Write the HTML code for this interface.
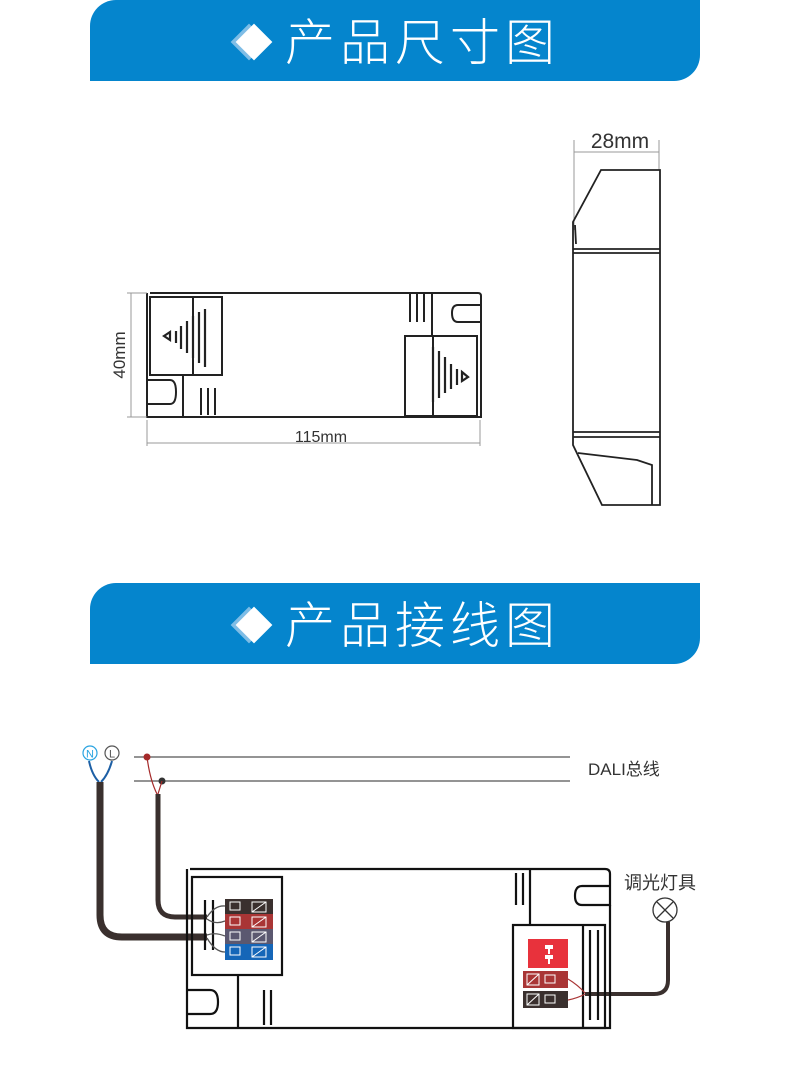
<!DOCTYPE html>
<html><head><meta charset="utf-8"><style>
html,body{margin:0;padding:0;background:#fff;}
body{width:790px;height:1091px;overflow:hidden;position:relative;font-family:"Liberation Sans","Noto Sans CJK SC",sans-serif;}
.ban{position:absolute;left:90px;width:610px;height:81px;background:#0585cd;border-radius:26px 0 26px 0;}
.ban .t{position:absolute;left:195px;top:9px;font-size:50px;color:#fff;letter-spacing:5px;line-height:60px;font-family:"Noto Sans CJK SC",sans-serif;font-weight:300;}
.dia{position:absolute;width:26px;height:26px;transform:rotate(45deg);}
</style></head><body>
<div class="ban" style="top:0"><div class="dia" style="left:146px;top:29px;background:#7fbde6"></div><div class="dia" style="left:151px;top:29px;background:#fff"></div><div class="t">产品尺寸图</div></div>
<div class="ban" style="top:583px"><div class="dia" style="left:146px;top:29px;background:#7fbde6"></div><div class="dia" style="left:151px;top:29px;background:#fff"></div><div class="t">产品接线图</div></div>

<svg width="790" height="1091" style="position:absolute;left:0;top:0" xmlns="http://www.w3.org/2000/svg">
<g fill="none" stroke="#222" stroke-width="2">
<path d="M150 293 H478 Q481 293 481 296 V322 H458 Q452 322 452 313 Q452 305 458 305 H481"/>
<path d="M147 293 V417 H481 V322"/>
<path d="M147 380 H170 Q176 380 176 392 Q176 404 170 404 H147"/>
<rect x="150" y="297" width="72" height="78"/>
<line x1="193" y1="297" x2="193" y2="375"/>
<rect x="405" y="336" width="72" height="80"/>
<line x1="433" y1="336" x2="433" y2="416"/>
<path d="M183 375 V417 M201 388 V415 M208 388 V415 M215 388 V415"/>
<path d="M410 293 V322 M417 293 V322 M424 293 V322 M432 293 V336"/>
</g>
<g fill="none" stroke="#222" stroke-width="2.2">
<path d="M164 336 L170 332 V340 Z M176 331 V343 M181 326 V349 M187 321 V353 M193 316 V358 M199 312 V363 M205 309 V367"/>
<path d="M468 377 L462 372 V381 Z M457 369 V385 M451 364 V389 M445 357 V393 M439 351 V398 M433 347 V402"/>
</g>
<g stroke="#999" stroke-width="1" fill="none">
<path d="M131 293 V417 M127 293 H147 M127 417 H147 M147 420 V446 M480 420 V446 M147 443 H480"/>
<path d="M574 140 V230 M659 140 V170 M574 152 H659"/>
</g>
<text x="321" y="442" font-size="16" fill="#333" text-anchor="middle" font-family="Liberation Sans, sans-serif">115mm</text>
<text transform="translate(125,355) rotate(-90)" font-size="17" fill="#333" text-anchor="middle" font-family="Liberation Sans, sans-serif">40mm</text>
<text x="620" y="148" font-size="21" fill="#333" text-anchor="middle" font-family="Liberation Sans, sans-serif">28mm</text>
<g fill="none" stroke="#222" stroke-width="1.8">
<path d="M601 170 H660 V505 H602 L573 445 V222 Z"/>
<path d="M573 249 H660 M573 253 H660 M573 432 H660 M573 437 H660"/>
<path d="M578 453 L637 460 L652 465 V505 M575 225 L576 244"/>
</g>
<g stroke="#555" stroke-width="1.2"><line x1="134" y1="757" x2="570" y2="757"/><line x1="134" y1="781" x2="570" y2="781"/></g>
<text x="588" y="775" font-size="17" fill="#333" font-family="Liberation Sans, Noto Sans CJK SC, sans-serif">DALI总线</text>
<text x="624" y="889" font-size="18" fill="#333" font-family="Noto Sans CJK SC, sans-serif">调光灯具</text>
<circle cx="147" cy="757" r="3.5" fill="#a52a2a"/><circle cx="162" cy="781" r="3.5" fill="#333"/>
<path d="M147 757 Q150 780 157 794 M162 781 L158 794" stroke="#a52a2a" stroke-width="1.2" fill="none"/>
<circle cx="90" cy="753" r="7" fill="#fff" stroke="#29a3e0" stroke-width="1.2"/><text x="90" y="757.5" font-size="11" fill="#29a3e0" text-anchor="middle">N</text>
<circle cx="112" cy="753" r="7" fill="#fff" stroke="#555" stroke-width="1.2"/><text x="112" y="757.5" font-size="11" fill="#555" text-anchor="middle">L</text>
<path d="M89 761 Q92 775 99 782 M112 761 Q108 775 101 782" stroke="#1d5fa5" stroke-width="2" fill="none"/>
<path d="M158 794 V900 Q158 917 175 917 H207" stroke="#3a302e" stroke-width="5" fill="none"/>
<path d="M100 782 V915 Q100 937 122 937 H207" stroke="#3a302e" stroke-width="7" fill="none"/>
<circle cx="665" cy="910" r="12" fill="#fff" stroke="#333" stroke-width="1.3"/>
<path d="M657 902 L673 918 M673 902 L657 918" stroke="#333" stroke-width="1.3"/>
<path d="M668 922 V980 Q668 994 654 994 H585" stroke="#3a302e" stroke-width="4" fill="none"/>
<g fill="none" stroke="#111" stroke-width="2.2">
<path d="M190 869 H605 Q610 869 610 874 V905 H582 Q575 905 575 896 Q575 886 582 886 H610"/>
<path d="M187 869 V1028 H610 V905"/>
<path d="M187 990 H210 Q218 990 218 1002 Q218 1014 210 1014 H187"/>
<rect x="192" y="877" width="90" height="98"/>
<rect x="513" y="925" width="92" height="103"/>
<path d="M238 975 V1028 M264 990 V1025 M271 990 V1025 M530 869 V925 M523 873 V905 M516 873 V905 M583 925 V1028"/>
<path d="M205 900 V950 M213 900 V950 M598 930 V1020 M590 930 V1020"/>
</g>
<rect x="225" y="899" width="48" height="15" fill="#3a302e"/>
<rect x="225" y="914" width="48" height="15" fill="#a93535"/>
<rect x="225" y="929" width="48" height="15" fill="#5b5870"/>
<rect x="225" y="944" width="48" height="16" fill="#1566b8"/>
<g stroke="#fff" stroke-width="1" fill="none">
<path d="M230 902 h10 v8 h-10 z M252 902 h14 v10 h-14 z M252 912 L266 902"/>
<path d="M230 917 h10 v8 h-10 z M252 917 h14 v10 h-14 z M252 927 L266 917"/>
<path d="M230 932 h10 v8 h-10 z M252 932 h14 v10 h-14 z M252 942 L266 932"/>
<path d="M230 947 h10 v8 h-10 z M252 947 h14 v10 h-14 z M252 957 L266 947"/>
</g>
<path d="M207 917 Q215 905 225 906 M207 919 Q215 925 225 921 M207 935 Q215 932 225 936 M207 938 Q215 952 225 952" stroke="#555" stroke-width="1.3" fill="none"/>
<rect x="528" y="939" width="40" height="29" fill="#e8323c"/>
<path d="M545 945 h8 v4 h-3 v5 h-2 v-5 h-3z M545 955 h8 v4 h-3 v5 h-2 v-5 h-3z" fill="#fff"/>
<rect x="523" y="971" width="45" height="17" fill="#a93535"/>
<rect x="523" y="991" width="45" height="17" fill="#3a302e"/>
<g stroke="#fff" stroke-width="1" fill="none">
<path d="M527 974 h12 v11 h-12z M527 985 L539 974 M545 975 h10 v8 h-10z"/>
<path d="M527 994 h12 v11 h-12z M527 1005 L539 994 M545 995 h10 v8 h-10z"/>
</g>
<path d="M568 979 Q578 985 585 993 M568 1000 Q578 998 585 994" stroke="#a93535" stroke-width="1.2" fill="none"/>
</svg>
</body></html>
